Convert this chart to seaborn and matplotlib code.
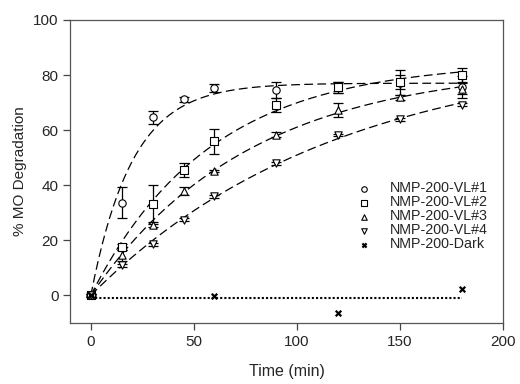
import numpy as np
import pandas as pd
import matplotlib
matplotlib.use('Agg')
import matplotlib.pyplot as plt
import seaborn as sns

# values
time = [0, 15, 30, 45, 60, 90, 120, 150, 180]
vl1 = [0, 33.7, 64.6, 71.2, 75.3, 74.5, 75.5, 77.2, 75.5]
vl1_err = [0.5, 5.5, 2.5, 1.0, 1.5, 3.0, 2.0, 4.5, 4.0]
vl2 = [0, 17.6, 33.1, 45.5, 56.0, 69.0, 75.5, 77.6, 80.0]
vl2_err = [0.5, 1.0, 7.0, 2.5, 4.5, 2.5, 2.0, 2.5, 2.5]
vl3 = [0, 14.5, 25.7, 37.9, 45.2, 58.4, 67.3, 71.9, 75.0]
vl3_err = [0.5, 2.0, 1.0, 1.5, 0.5, 1.0, 2.5, 1.0, 2.0]
vl4 = [0, 10.9, 18.5, 27.5, 36.0, 47.9, 58.2, 64.0, 69.3]
vl4_err = [0.3, 0.5, 0.5, 0.5, 0.5, 0.5, 0.5, 0.5, 0.5]
dark_time = [0, 60, 120, 180]
dark = [0, -0.2, -6.3, 2.4]

labels = ['NMP-200-VL#1', 'NMP-200-VL#2', 'NMP-200-VL#3', 'NMP-200-VL#4']
markers = ['o', 's', '^', 'v']

sns.set_style('ticks')
plt.rcParams['font.family'] = ['Liberation Sans', 'DejaVu Sans']

fig, ax = plt.subplots(figsize=(5.2, 3.84), dpi=100)

# first order fit y = A(1 - exp(-kt)) done on the data
def fit_first_order(t, y):
    t = np.asarray(t, float)
    y = np.asarray(y, float)
    best = None
    for k in np.linspace(0.001, 0.3, 3000):
        f = 1 - np.exp(-k * t)
        A = (f * y).sum() / (f * f).sum()
        sse = ((y - A * f) ** 2).sum()
        if best is None or sse < best[0]:
            best = (sse, A, k)
    return best[1], best[2]

tt = np.linspace(0, 180, 200)
series = [(vl1, vl1_err), (vl2, vl2_err), (vl3, vl3_err), (vl4, vl4_err)]
for (y, err), lab, m in zip(series, labels, markers):
    A, k = fit_first_order(time, y)
    fit_df = pd.DataFrame({'t': tt, 'y': A * (1 - np.exp(-k * tt))})
    sns.lineplot(data=fit_df, x='t', y='y', ax=ax, color='black', lw=0.9,
                 dashes=False, linestyle=(0, (7, 3.5)), zorder=2)
    ax.errorbar(time, y, yerr=err, fmt='none', ecolor='black', elinewidth=0.9,
                capsize=3.5, capthick=0.9, zorder=3)
    df = pd.DataFrame({'t': time, 'y': y})
    sns.scatterplot(data=df, x='t', y='y', ax=ax, marker=m, s=28,
                    facecolor='white', edgecolor='black', linewidth=0.8,
                    label=lab, zorder=4)

dark_df = pd.DataFrame({'t': dark_time, 'y': dark})
mean_dark = np.mean(dark)
ax.plot([0, 180], [mean_dark, mean_dark], color='black', lw=1.5,
        linestyle=(0, (1, 1)), zorder=2)
sns.scatterplot(data=dark_df, x='t', y='y', ax=ax, marker='x', s=16,
                color='black', linewidth=1.6, label='NMP-200-Dark', zorder=4)

ax.set_xlim(-10, 200)
ax.set_ylim(-10, 100)
ax.set_xticks([0, 50, 100, 150, 200])
ax.set_yticks([0, 20, 40, 60, 80, 100])
ax.set_xlabel('Time (min)', fontsize=11.5, labelpad=11)
ax.set_ylabel('% MO Degradation', fontsize=11)
ax.tick_params(labelsize=11, direction='out', length=5, width=0.9, color='#444444')
for s in ax.spines.values():
    s.set_color('#555555')
    s.set_linewidth(0.9)

ax.legend(frameon=False, fontsize=10.3, loc='center left', bbox_to_anchor=(0.632, 0.352),
          handletextpad=0.8, labelspacing=0.0, borderaxespad=0, markerscale=0.75)

plt.subplots_adjust(left=0.135, right=0.967, top=0.948, bottom=0.159)
plt.savefig('out.png', dpi=100)
plt.close()
